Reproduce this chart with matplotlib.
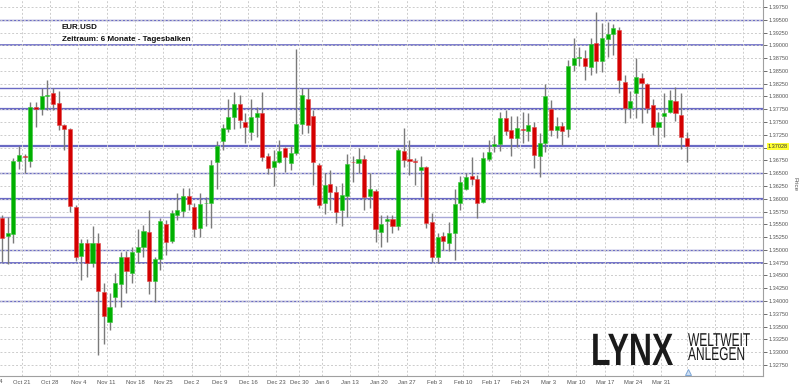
import numpy as np
import pandas as pd
import matplotlib
matplotlib.use("Agg")
import matplotlib.pyplot as plt
from matplotlib import transforms
from matplotlib.patheffects import AbstractPathEffect

# Tagesbalken EUR.USD, 15.10.2013 - 04.04.2014
opens = [1.3562, 1.3528, 1.3532, 1.3674, 1.3683, 1.3674, 1.3780, 1.3775, 1.3801, 1.3806,
         1.3787, 1.3744, 1.3736, 1.3583, 1.3488, 1.3513, 1.3474, 1.3514, 1.3418, 1.3360,
         1.3407, 1.3433, 1.3487, 1.3455, 1.3495, 1.3506, 1.3535, 1.3439, 1.3482, 1.3550,
         1.3518, 1.3568, 1.3577, 1.3605, 1.3583, 1.3542, 1.3591, 1.3592, 1.3671, 1.3713,
         1.3736, 1.3759, 1.3785, 1.3751, 1.3731, 1.3759, 1.3767, 1.3684, 1.3663, 1.3671,
         1.3699, 1.3669, 1.3690, 1.3746, 1.3796, 1.3762, 1.3666, 1.3592, 1.3628, 1.3613,
         1.3578, 1.3605, 1.3672, 1.3669, 1.3678, 1.3605, 1.3616, 1.3536, 1.3557, 1.3560,
         1.3547, 1.3694, 1.3678, 1.3673, 1.3656, 1.3663, 1.3555, 1.3486, 1.3528, 1.3514,
         1.3533, 1.3592, 1.3619, 1.3645, 1.3638, 1.3594, 1.3678, 1.3704, 1.3707, 1.3758,
         1.3735, 1.3718, 1.3737, 1.3733, 1.3740, 1.3684, 1.3709, 1.3775, 1.3735, 1.3742,
         1.3736, 1.3862, 1.3875, 1.3876, 1.3858, 1.3904, 1.3869, 1.3912, 1.3922, 1.3931,
         1.3829, 1.3777, 1.3806, 1.3836, 1.3824, 1.3783, 1.3741, 1.3761, 1.3770, 1.3791,
         1.3764, 1.3718]
highs = [1.3568, 1.3564, 1.3680, 1.3703, 1.3688, 1.3790, 1.3790, 1.3816, 1.3832, 1.3816,
         1.3811, 1.3746, 1.3739, 1.3587, 1.3521, 1.3521, 1.3547, 1.3533, 1.3436, 1.3415,
         1.3455, 1.3495, 1.3497, 1.3506, 1.3540, 1.3549, 1.3578, 1.3487, 1.3562, 1.3559,
         1.3578, 1.3612, 1.3621, 1.3621, 1.3592, 1.3612, 1.3604, 1.3676, 1.3712, 1.3746,
         1.3795, 1.3809, 1.3802, 1.3767, 1.3796, 1.3780, 1.3809, 1.3689, 1.3695, 1.3715,
         1.3702, 1.3703, 1.3892, 1.3816, 1.3816, 1.3774, 1.3669, 1.3651, 1.3656, 1.3624,
         1.3631, 1.3688, 1.3684, 1.3700, 1.3686, 1.3650, 1.3619, 1.3568, 1.3568, 1.3568,
         1.3699, 1.3738, 1.3715, 1.3679, 1.3684, 1.3665, 1.3573, 1.3534, 1.3536, 1.3555,
         1.3619, 1.3645, 1.3650, 1.3682, 1.3646, 1.3692, 1.3714, 1.3725, 1.3770, 1.3774,
         1.3761, 1.3762, 1.3770, 1.3768, 1.3751, 1.3729, 1.3824, 1.3793, 1.3760, 1.3751,
         1.3871, 1.3915, 1.3897, 1.3891, 1.3914, 1.3966, 1.3944, 1.3946, 1.3942, 1.3935,
         1.3842, 1.3811, 1.3875, 1.3845, 1.3826, 1.3796, 1.3770, 1.3806, 1.3813, 1.3818,
         1.3806, 1.3731]
lows = [1.3476, 1.3472, 1.3514, 1.3658, 1.3650, 1.3662, 1.3741, 1.3764, 1.3774, 1.3774,
        1.3735, 1.3695, 1.3575, 1.3478, 1.3441, 1.3448, 1.3467, 1.3295, 1.3316, 1.3343,
        1.3389, 1.3389, 1.3416, 1.3435, 1.3474, 1.3487, 1.3414, 1.3399, 1.3461, 1.3490,
        1.3513, 1.3559, 1.3564, 1.3578, 1.3525, 1.3525, 1.3546, 1.3542, 1.3619, 1.3695,
        1.3731, 1.3736, 1.3738, 1.3709, 1.3715, 1.3721, 1.3673, 1.3648, 1.3624, 1.3669,
        1.3653, 1.3656, 1.3686, 1.3727, 1.3728, 1.3627, 1.3581, 1.3570, 1.3578, 1.3552,
        1.3547, 1.3565, 1.3633, 1.3650, 1.3578, 1.3581, 1.3516, 1.3506, 1.3516, 1.3534,
        1.3539, 1.3662, 1.3646, 1.3627, 1.3603, 1.3542, 1.3477, 1.3475, 1.3500, 1.3497,
        1.3480, 1.3578, 1.3617, 1.3627, 1.3562, 1.3592, 1.3673, 1.3692, 1.3694, 1.3725,
        1.3684, 1.3702, 1.3709, 1.3712, 1.3660, 1.3642, 1.3692, 1.3723, 1.3719, 1.3705,
        1.3720, 1.3850, 1.3859, 1.3832, 1.3842, 1.3845, 1.3848, 1.3878, 1.3881, 1.3807,
        1.3748, 1.3757, 1.3757, 1.3748, 1.3767, 1.3725, 1.3703, 1.3720, 1.3767, 1.3752,
        1.3697, 1.3671]
closes = [1.3523, 1.3534, 1.3674, 1.3686, 1.3681, 1.3779, 1.3775, 1.3801, 1.3803, 1.3785,
          1.3744, 1.3736, 1.3585, 1.3486, 1.3513, 1.3474, 1.3513, 1.3420, 1.3371, 1.3388,
          1.3436, 1.3486, 1.3459, 1.3495, 1.3505, 1.3537, 1.3439, 1.3482, 1.3557, 1.3516,
          1.3572, 1.3578, 1.3605, 1.3590, 1.3541, 1.3590, 1.3592, 1.3667, 1.3704, 1.3738,
          1.3759, 1.3785, 1.3754, 1.3741, 1.3759, 1.3767, 1.3682, 1.3661, 1.3674, 1.3694,
          1.3681, 1.3690, 1.3746, 1.3803, 1.3744, 1.3671, 1.3588, 1.3627, 1.3614, 1.3575,
          1.3607, 1.3668, 1.3671, 1.3678, 1.3604, 1.3619, 1.3540, 1.3550, 1.3560, 1.3547,
          1.3695, 1.3676, 1.3673, 1.3671, 1.3662, 1.3553, 1.3487, 1.3525, 1.3518, 1.3533,
          1.3589, 1.3633, 1.3643, 1.3638, 1.3592, 1.3679, 1.3692, 1.3707, 1.3757, 1.3733,
          1.3718, 1.3738, 1.3735, 1.3744, 1.3686, 1.3710, 1.3801, 1.3735, 1.3742, 1.3733,
          1.3859, 1.3876, 1.3877, 1.3859, 1.3903, 1.3869, 1.3914, 1.3922, 1.3933, 1.3832,
          1.3777, 1.3791, 1.3838, 1.3826, 1.3778, 1.3740, 1.3751, 1.3768, 1.3793, 1.3767,
          1.3720, 1.3703]

# Handelstage (ohne 25.12. und 01.01.)
trade_days = pd.bdate_range("2013-10-15", "2014-04-04")
trade_days = trade_days[~trade_days.isin(pd.to_datetime(["2013-12-25", "2014-01-01"]))]

week_labels = ["Oct 14", "Oct 21", "Oct 28", "Nov 4", "Nov 11", "Nov 18", "Nov 25", "Dec 2",
               "Dec 9", "Dec 16", "Dec 23", "Dec 30", "Jan 6", "Jan 13", "Jan 20", "Jan 27",
               "Feb 3", "Feb 10", "Feb 17", "Feb 24", "Mar 3", "Mar 10", "Mar 17", "Mar 24",
               "Mar 31", "", "", ""]
week_pos = [-1, 4, 9, 14, 19, 24, 29, 34, 39, 44, 49, 53, 57, 62, 67, 72, 77, 82, 87, 92,
            97, 102, 107, 112, 117, 121.5, 126.5, 131.5]

# horizontale Linien (Unterstützung / Widerstand)
levels = [1.3950, 1.3900, 1.3817, 1.3775, 1.37028, 1.3650, 1.3600, 1.3565, 1.3500, 1.3475, 1.3400]
level_lw = [1.0, 1.2, 1.0, 1.6, 1.6, 1.0, 1.6, 1.0, 1.0, 1.3, 1.0]
level_col = ["#6a6ac4"] * 7 + ["#a8a8d8"] + ["#6a6ac4"] * 3

last_price = 1.37028


class StretchY(AbstractPathEffect):
    """hohe, schmale Logo-Schrift: Glyphen ab der Grundlinie senkrecht strecken"""
    def __init__(self, sy, y0):
        super().__init__()
        self.sy = sy
        self.y0 = y0

    def draw_path(self, renderer, gc, tpath, affine, rgbFace=None):
        stretch = transforms.Affine2D().translate(0, -self.y0).scale(1, self.sy).translate(0, self.y0)
        renderer.draw_path(gc, tpath, affine + stretch, rgbFace)


O = np.array(opens); H = np.array(highs); L = np.array(lows); C = np.array(closes)
x = np.arange(len(O))
up = C >= O

fig = plt.figure(figsize=(8, 3.86), dpi=100)
ax = fig.add_axes([0.0, 0.026, 0.954, 0.974])

# Gitter
yt = np.arange(1.3275, 1.3976, 0.0025)
ax.set_yticks(yt)
ax.set_yticklabels(["" if abs(v - 1.37) < 1e-6 else "%.5f" % v for v in yt])
ax.set_xticks(np.array(week_pos[1:]) - 0.5)
ax.set_xticklabels(week_labels[1:])
ax.grid(True, color="#cccccc", linestyle=(0, (2, 2)), linewidth=0.7, zorder=0)

for lv, lw, col in zip(levels, level_lw, level_col):
    ax.axhline(lv, color=col, linewidth=lw, zorder=1)

# Kerzen
ax.vlines(x, L, H, color="#7a7a7a", linewidth=1.0, zorder=2)
body = np.maximum(np.abs(C - O), 0.00008)
ax.bar(x[up], body[up], bottom=np.minimum(O, C)[up], width=0.72, color="#00b000",
       edgecolor="#3cc43c", linewidth=0.4, zorder=3)
ax.bar(x[~up], body[~up], bottom=np.minimum(O, C)[~up], width=0.72, color="#d40000",
       edgecolor="#e04848", linewidth=0.4, zorder=3)

ax.set_xlim(-0.35, 134.5)
ax.set_ylim(1.32535, 1.39887)

ax.yaxis.tick_right()
ax.tick_params(axis="y", labelsize=4, colors="#555555", length=3, width=0.6, pad=1)
ax.tick_params(axis="x", labelsize=4.2, colors="#555555", length=0, pad=3)
for s in ["top", "left"]:
    ax.spines[s].set_visible(False)
for s in ["right", "bottom"]:
    ax.spines[s].set_color("#a0a0a0")
    ax.spines[s].set_linewidth(0.8)
for lab in ax.get_xticklabels() + ax.get_yticklabels():
    lab.set_fontfamily("Liberation Sans")

# abgeschnittenes erstes Datum am linken Rand
xy_mix = transforms.blended_transform_factory(ax.transData, ax.transAxes)
ax.text(week_pos[0] - 0.5, -0.008, week_labels[0], transform=xy_mix, ha="center", va="top",
        fontsize=4.2, color="#555555", family="Liberation Sans", clip_on=False)

# aktueller Kurs
ax.text(1.0058, last_price, "%.5f" % last_price,
        transform=transforms.blended_transform_factory(ax.transAxes, ax.transData),
        ha="left", va="center", fontsize=4, color="#333333", family="Liberation Sans",
        bbox=dict(boxstyle="square,pad=0.2", facecolor="#ffff33", edgecolor="none"), zorder=5)

fig.text(0.994, 0.522, "Price", rotation=270, ha="center", va="center", fontsize=4.5,
         color="#555555", family="Liberation Sans")

# Markierung unten
ax.plot([121.3], [0.01], marker="^", markersize=5, color="#cfe0f5", markeredgecolor="#7fa7d6",
        markeredgewidth=0.7, transform=xy_mix, clip_on=False, zorder=6)

# Titel
fig.text(0.0775, 0.9236, "EUR.USD", fontsize=5.8, fontweight="bold", family="Liberation Sans",
         color="#111111")
fig.text(0.0775, 0.8945, "Zeitraum: 6 Monate - Tagesbalken", fontsize=5.8, fontweight="bold",
         family="Liberation Sans", color="#111111")

# Logo
fig.text(591 / 800, 21 / 386, "LYNX", fontsize=23, fontweight="bold", family="Liberation Sans",
         color="#1a1a1a", path_effects=[StretchY(1.42, 21)])
fig.text(688 / 800, 40 / 386, "WELTWEIT", fontsize=8.6, family="Liberation Sans",
         color="#1a1a1a", path_effects=[StretchY(1.56, 40)])
fig.text(688 / 800, 26 / 386, "ANLEGEN", fontsize=8.6, family="Liberation Sans",
         color="#1a1a1a", path_effects=[StretchY(1.56, 26)])

fig.savefig("out.png", dpi=100)
